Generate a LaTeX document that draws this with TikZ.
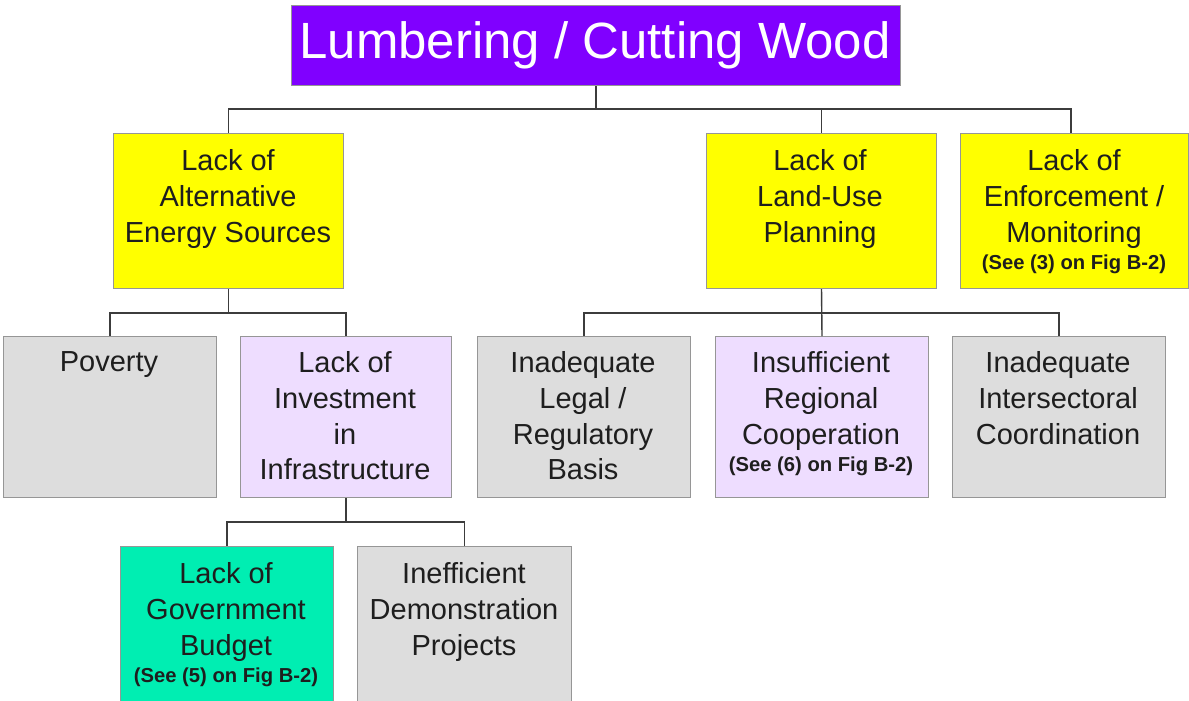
\documentclass[tikz,border=0pt]{standalone}
\usepackage{fontspec}
\setmainfont{Liberation Sans}
\usetikzlibrary{positioning}

\definecolor{titlepurple}{RGB}{128,0,255}
\definecolor{causeyellow}{RGB}{255,255,0}
\definecolor{causegray}{RGB}{221,221,221}
\definecolor{causelilac}{RGB}{238,221,255}
\definecolor{causeteal}{RGB}{0,238,178}
\definecolor{edgegray}{RGB}{150,150,150}
\definecolor{linkgray}{RGB}{60,60,60}
\definecolor{ink}{RGB}{30,30,30}

\tikzset{
  box/.style={draw=edgegray, line width=0.6pt, anchor=north west, inner sep=0pt},
  topbox/.style={box, minimum width=4.6cm, minimum height=3.1cm, fill=causeyellow},
  midbox/.style={box, minimum width=4.26cm, minimum height=3.22cm},
  lowbox/.style={box, minimum width=4.26cm, minimum height=3.3cm},
  txt/.style={anchor=north, align=center, inner sep=0pt, text=ink,
    font=\fontsize{16.5}{20.4}\selectfont},
  note/.style={inner sep=0pt, text=ink, font=\fontsize{11.5}{13}\selectfont\bfseries},
  link/.style={draw=linkgray, line width=0.8pt}
}

\begin{document}
\begin{tikzpicture}[x=0.02cm, y=-0.02cm]

\useasboundingbox (0,0) rectangle (1189,700);
\clip (0,0) rectangle (1189,700);

%% title
\node[box, fill=titlepurple, minimum width=12.18cm, minimum height=1.6cm] (title) at (291,5) {};
\node[text=white, inner sep=0pt, font=\fontsize{29}{32}\selectfont] (titletxt) at (595,45) {Lumbering / Cutting Wood};

%% first row
\node[topbox] (enalt) at (113,133) {};
\node[topbox] (land) at (706,133) {};
\node[topbox, minimum width=4.56cm] (enforce) at (960,133) {};

\node[txt] (enalttxt) at (228,149) {Lack of\\Alternative\\Energy Sources};
\node[txt] (landtxt) at (820,149) {Lack of\\Land-Use\\Planning};
\node[txt] (enforcetxt) at (1074,149) {Lack of\\Enforcement /\\Monitoring};
\node[note] (enforcenote) at (1074,264) {(See (3) on Fig B-2)};

%% second row
\node[midbox, fill=causegray] (pov) at (3,336) {};
\node[midbox, fill=causelilac, minimum width=4.22cm] (invest) at (240,336) {};
\node[midbox, fill=causegray] (legal) at (477,336) {};
\node[midbox, fill=causelilac] (regional) at (715,336) {};
\node[midbox, fill=causegray] (intersect) at (952,336) {};

\node[txt] (povtxt) at (109,351) {Poverty};
\node[txt] (investtxt) at (345,351) {Lack of\\Investment\\in\\Infrastructure};
\node[txt] (legaltxt) at (583,351) {Inadequate\\Legal /\\Regulatory\\Basis};
\node[txt] (regionaltxt) at (821,351) {Insufficient\\Regional\\Cooperation};
\node[note] (regionalnote) at (821,466) {(See (6) on Fig B-2)};
\node[txt] (intersecttxt) at (1058,351) {Inadequate\\Intersectoral\\Coordination};

%% third row
\node[lowbox, fill=causeteal] (budget) at (120,546) {};
\node[lowbox, fill=causegray, minimum width=4.28cm] (demo) at (357,546) {};

\node[txt] (budgettxt) at (226,562) {Lack of\\Government\\Budget};
\node[note] (budgetnote) at (226,677) {(See (5) on Fig B-2)};
\node[txt] (demotxt) at (464,562) {Inefficient\\Demonstration\\Projects};

%% connectors
\draw[link] (title.south) -- ++(0,23) coordinate (t1);
\draw[link] (t1) -| (enalt.north);
\draw[link] (t1) -| ([xshift=-2]enforce.north);
\draw[link] (t1) -| (land.north);

\draw[link] (enalt.south) -- ++(0,24) coordinate (a1);
\draw[link] (a1) -| (pov.north);
\draw[link] (a1) -| (invest.north);

\draw[link] (land.south) -- (regional.north);
\draw[link] (land.south) ++(0,24) coordinate (l1);
\draw[link] (l1) -| (legal.north);
\draw[link] (l1) -| (intersect.north);

\draw[link] (invest.south) -- ++(0,24) coordinate (i1);
\draw[link] (i1) -| (budget.north);
\draw[link] (i1) -| (demo.north);

\end{tikzpicture}
\end{document}
